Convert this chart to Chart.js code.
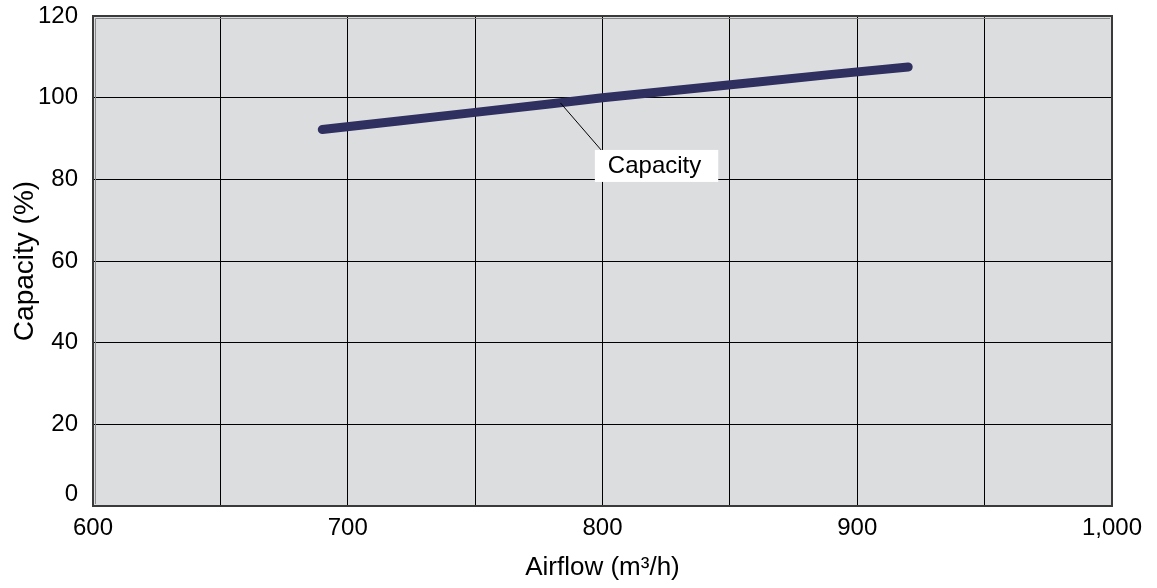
<!DOCTYPE html>
<html><head><meta charset="utf-8">
<script src="https://cdn.jsdelivr.net/npm/chart.js@4/dist/chart.umd.min.js"></script>
<style>html,body{margin:0;padding:0;background:#fff;overflow:hidden}</style>
</head><body>
<canvas id="c" width="1157" height="588"></canvas>
<script>
// ---- data ----
const airflow = [690, 720, 750, 780, 800, 830, 860, 890, 920];
const capacity = [92.2, 94.3, 96.4, 98.5, 100.0, 101.9, 103.8, 105.7, 107.5];
const seriesName = "Capacity";
const xTitle = "Airflow (m\u00B3/h)";
const yTitle = "Capacity (%)";
const xMin = 600, xMax = 1000, xGridStep = 50, xLabelStep = 100;
const yMin = 0, yMax = 120, yStep = 20;
// annotation anchor (data units)
const calloutFrom = [783.5, 98.7];
const calloutTo = [800, 86.8];
const calloutBox = [797, 87.2];

const FONT = "Arial, 'Liberation Sans', sans-serif";
Chart.defaults.font.family = FONT;
Chart.defaults.color = "#000";

const plotBg = {
  id: 'plotBg',
  beforeDraw(chart) {
    const {ctx, chartArea: a} = chart;
    ctx.save();
    ctx.fillStyle = '#DCDDDF';
    ctx.fillRect(a.left, a.top, a.right - a.left, a.bottom - a.top);
    ctx.restore();
  },
  afterDatasetsDraw(chart) {
    const {ctx, chartArea: a, scales: {x, y}} = chart;
    ctx.save();
    // frame
    ctx.strokeStyle = '#3a3a3a';
    ctx.lineWidth = 2;
    ctx.strokeRect(a.left, a.top, a.right - a.left, a.bottom - a.top);
    ctx.strokeStyle = '#888';
    ctx.lineWidth = 1;
    ctx.beginPath();
    ctx.moveTo(a.left + 2.5, a.bottom - 2); ctx.lineTo(a.left + 2.5, a.top + 2.5); ctx.lineTo(a.right - 2, a.top + 2.5);
    ctx.stroke();
    // callout
    const fx = x.getPixelForValue(calloutFrom[0]), fy = y.getPixelForValue(calloutFrom[1]);
    const tx = x.getPixelForValue(calloutTo[0]), ty = y.getPixelForValue(calloutTo[1]);
    ctx.strokeStyle = '#000';
    ctx.lineWidth = 1;
    ctx.beginPath(); ctx.moveTo(fx, fy); ctx.lineTo(tx, ty); ctx.stroke();
    const bx = x.getPixelForValue(calloutBox[0]), by = y.getPixelForValue(calloutBox[1]);
    ctx.font = "24px " + FONT;
    const w = ctx.measureText(seriesName).width + 30;
    ctx.fillStyle = '#fff';
    ctx.fillRect(bx, by, w, 32);
    ctx.fillStyle = '#000';
    ctx.textBaseline = 'middle';
    ctx.fillText(seriesName, bx + 13, by + 16);
    ctx.restore();
  }
};

new Chart(document.getElementById('c'), {
  type: 'scatter',
  data: {
    datasets: [{
      label: seriesName,
      data: airflow.map((v, i) => ({x: v, y: capacity[i]})),
      showLine: true,
      borderColor: '#2F2F60',
      borderWidth: 9,
      borderCapStyle: 'round',
      borderJoinStyle: 'round',
      pointRadius: 0,
      tension: 0
    }]
  },
  options: {
    responsive: false,
    devicePixelRatio: 1,
    animation: false,
    layout: {padding: {top: 16, right: 45, left: 0, bottom: 0}},
    plugins: {legend: {display: false}, tooltip: {enabled: false}},
    scales: {
      x: {
        type: 'linear', min: xMin, max: xMax,
        afterFit(s) { s.height = 82; s.paddingLeft = 0; s.paddingRight = 0; },
        border: {display: false},
        grid: {color: '#000', lineWidth: 1, drawTicks: false},
        ticks: {
          stepSize: xGridStep, autoSkip: false, maxRotation: 0, padding: 8,
          font: {size: 24},
          callback: v => (v % xLabelStep === 0 ? v.toLocaleString('en-US') : '')
        },
        title: {display: true, text: xTitle, font: {size: 26}, padding: {top: 0, bottom: 5}}
      },
      y: {
        type: 'linear', min: yMin, max: yMax,
        afterFit(s) { s.width = 93; s.paddingTop = 0; s.paddingBottom = 0; },
        border: {display: false},
        grid: {color: '#000', lineWidth: 1, drawTicks: false},
        ticks: {
          stepSize: yStep, padding: 15,
          font: c => (c.tick && c.tick.value === 0 ? {size: 24, lineHeight: '23px'} : {size: 24}),
          callback: v => (v === 0 ? ['0', ''] : String(v))
        },
        title: {display: true, text: yTitle, font: {size: 28}, padding: {top: 8, bottom: 0}}
      }
    }
  },
  plugins: [plotBg]
});
</script>
</body></html>
